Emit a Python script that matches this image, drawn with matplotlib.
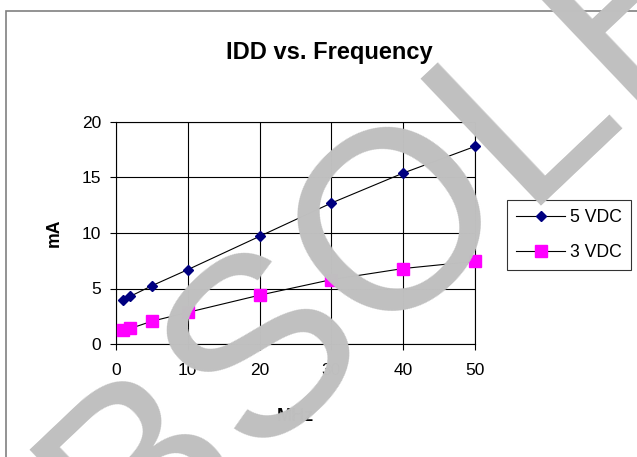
import numpy as np
import matplotlib
matplotlib.use("Agg")
import matplotlib.pyplot as plt
from matplotlib.patches import Rectangle

plt.rcParams['font.family'] = ['Liberation Sans', 'DejaVu Sans']

# data
freq = [1, 2, 5, 10, 20, 30, 40, 50]
idd_5v = [4.0, 4.3, 5.25, 6.7, 9.7, 12.7, 15.4, 17.8]
idd_3v = [1.25, 1.4, 2.05, 2.85, 4.4, 5.8, 6.8, 7.45]
series_labels = ["5 VDC", "3 VDC"]
xticks = [0, 10, 20, 30, 40, 50]
yticks = [0, 5, 10, 15, 20]

W, H = 637, 457
fig = plt.figure(figsize=(W / 100, H / 100), dpi=100)
ax = fig.add_axes([116 / W, 1 - 344 / H, (475 - 116) / W, (344 - 122) / H])

ax.plot(freq, idd_5v, color='black', lw=0.8, marker='D', ms=5.6,
        mfc='#000080', mec='#000080', label=series_labels[0], zorder=3, clip_on=False)
ax.plot(freq, idd_3v, color='black', lw=0.8, marker='s', ms=8.4,
        mfc='#FF00FF', mec='#FF00FF', label=series_labels[1], zorder=3, clip_on=False)

ax.set_xlim(0, 50)
ax.set_ylim(0, 20)
ax.set_xticks(xticks)
ax.set_yticks(yticks)
ax.grid(True, color='black', lw=0.8)
ax.set_axisbelow(True)
for s in ax.spines.values():
    s.set_linewidth(0.8)
ax.tick_params(direction='out', length=4.5, width=0.8, labelsize=12.5, pad=6)
ax.tick_params(axis='x', pad=9)

ax.set_xlabel("MHz", fontsize=13, fontweight='bold', labelpad=22)
ax.set_ylabel("mA", fontsize=12.7, fontweight='bold', labelpad=14)
fig.text(329 / W, 1 - 59 / H, "IDD vs. Frequency", fontsize=17, fontweight='bold',
         ha='center', va='baseline')

leg = ax.legend(loc='upper left', bbox_to_anchor=(507 / W, 1 - 200 / H),
                bbox_transform=fig.transFigure, fontsize=12.7, frameon=True,
                fancybox=False, edgecolor='black', borderaxespad=0,
                handlelength=2.8, handletextpad=0.3, labelspacing=1.05,
                borderpad=0.5)
leg.get_frame().set_linewidth(0.8)

# outer chart border
fig.patches.append(Rectangle((6 / W, -0.05), 1.2, 1 - 11 / H + 0.05,
                             transform=fig.transFigure, fill=False,
                             edgecolor='#808080', lw=1.2))

# watermark, one letter at a time along a sloped baseline
# (Arial advance widths in em; second "O" centred at pixel 385, 208)
wm_text = "OBSOLETE"
wm_adv = [0.778, 0.667, 0.667, 0.778, 0.556, 0.667, 0.611, 0.667]
em = 255.0
rot = 43.5
ang = np.radians(rot)
d = np.array([np.cos(ang), -np.sin(ang)])    # along baseline, image coords
down = np.array([np.sin(ang), np.cos(ang)])  # towards baseline from cap centre
centres = np.cumsum(wm_adv) - np.array(wm_adv) / 2
centres = centres - centres[3]
for ch, off in zip(wm_text, centres):
    p = np.array([385.0, 208.0]) + off * em * d + 0.358 * em * down
    fig.text(p[0] / W, 1 - p[1] / H, ch, fontsize=em * 0.72, color='#C0C0C0',
             rotation=rot, rotation_mode='anchor', ha='center', va='baseline',
             zorder=10)

fig.savefig("out.png", dpi=100)
